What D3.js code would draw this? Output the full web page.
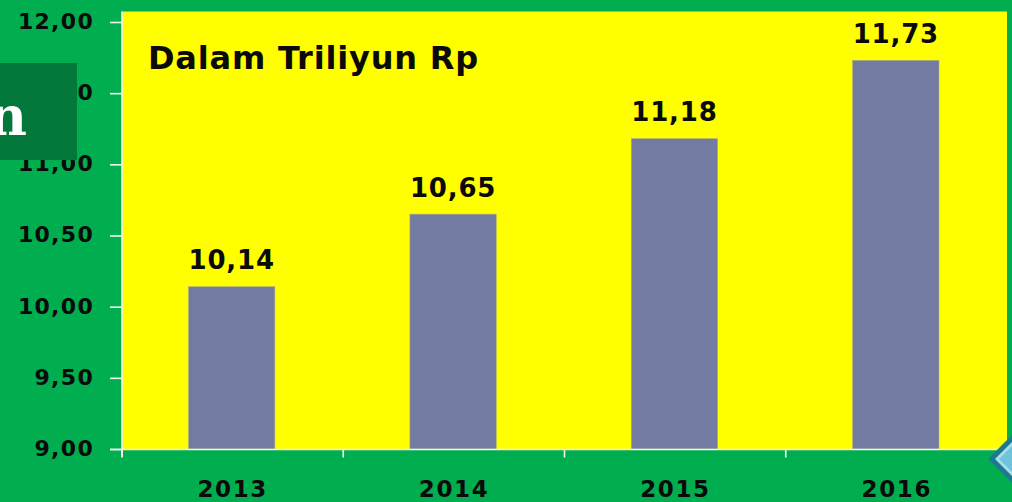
<!DOCTYPE html>
<html><head><meta charset="utf-8">
<script src="https://cdn.jsdelivr.net/npm/d3@7/dist/d3.min.js"></script>
<style>html,body{margin:0;padding:0;background:#00ae50;overflow:hidden}svg{display:block}</style>
</head><body><svg id="c" width="1012" height="502"></svg>
<script>
const years = ["2013","2014","2015","2016"];
const values = [10.14,10.65,11.18,11.73];
const labels = ["10,14","10,65","11,18","11,73"];
const yTicks = [9,9.5,10,10.5,11,11.5,12];
const yTickLabels = ["9,00","9,50","10,00","10,50","11,00","11,50","12,00"];
const titleText = "Dalam Triliyun Rp";

const svg = d3.select("#c");
const font = "'DejaVu Sans',sans-serif";
const x = d3.scaleBand().domain(years).range([121,1006.5]).paddingInner(0.61).paddingOuter(0.305);
const y = d3.scaleLinear().domain([9,12]).range([449,22]);

svg.append("rect").attr("x",122).attr("y",11.5).attr("width",885).attr("height",438).attr("fill","#ffff00");

svg.selectAll("rect.bar").data(years).join("rect").attr("class","bar")
  .attr("x",d=>x(d)).attr("width",x.bandwidth())
  .attr("y",(d,i)=>y(values[i])).attr("height",(d,i)=>y(9)-y(values[i]))
  .attr("fill","#737ba3").attr("stroke","#a9aa80").attr("stroke-width",0.6);

svg.selectAll("text.val").data(years).join("text").attr("class","val")
  .attr("x",d=>x(d)+x.bandwidth()/2).attr("y",(d,i)=>y(values[i])-17.5)
  .attr("text-anchor","middle").attr("font-family",font).attr("font-weight","bold").attr("font-size",26)
  .attr("letter-spacing",0.8).attr("fill","#0a0a0a").text((d,i)=>labels[i]);

const ax = d3.axisLeft(y).tickValues(yTicks).tickSize(12).tickPadding(16).tickFormat((d,i)=>yTickLabels[i]);
const gy = svg.append("g").attr("transform","translate(122,0)").call(ax);
gy.select(".domain").attr("d","M0,11.5V457").attr("stroke","#f2f7ee").attr("stroke-width",1.6).attr("fill","none");
gy.selectAll(".tick line").attr("stroke","#f2f7ee").attr("stroke-width",1.6);
gy.selectAll(".tick text").attr("font-family",font).attr("font-weight","bold").attr("font-size",22)
  .attr("letter-spacing",1.3).attr("fill","#0a0a0a").attr("dy","0.29em");

const xEdge = d3.scaleLinear().domain([0,4]).range([122,1007]);
const gx = svg.append("g").attr("transform","translate(0,449.5)");
gx.append("line").attr("x1",110).attr("x2",1007).attr("stroke","#f2f7ee").attr("stroke-width",1.6);
gx.selectAll("line.t").data(d3.range(5)).join("line").attr("class","t")
  .attr("x1",d=>xEdge(d)).attr("x2",d=>xEdge(d)).attr("y2",8).attr("stroke","#f2f7ee").attr("stroke-width",1.6);
svg.selectAll("text.yr").data(years).join("text").attr("class","yr")
  .attr("x",d=>x(d)+x.bandwidth()/2+1).attr("y",496.5).attr("text-anchor","middle")
  .attr("font-family",font).attr("font-weight","bold").attr("font-size",23)
  .attr("letter-spacing",1.6).attr("fill","#0a0a0a").text(d=>d);

svg.append("text").attr("x",148).attr("y",69).attr("font-family",font).attr("font-weight","bold")
  .attr("font-size",32).attr("letter-spacing",0.8).attr("fill","#0a0a0a").text(titleText);

svg.append("rect").attr("x",0).attr("y",63).attr("width",77).attr("height",97).attr("fill","#04773b");
svg.append("text").attr("x",27).attr("y",135).attr("text-anchor","end").attr("font-family","'DejaVu Serif',serif")
  .attr("font-weight","bold").attr("font-size",54).attr("fill","#fff").text("n");

const diamond = (cx,cy,r)=>`M${cx-r},${cy}L${cx},${cy-r}L${cx+r},${cy}L${cx},${cy+r}Z`;
svg.append("path").attr("d",diamond(1024,459,36)).attr("fill","#1c7a8e");
svg.append("path").attr("d",diamond(1024,459,29)).attr("fill","#a9dde8");
svg.append("path").attr("d",diamond(1024,459,25)).attr("fill","#6fc3dc");
</script></body></html>
